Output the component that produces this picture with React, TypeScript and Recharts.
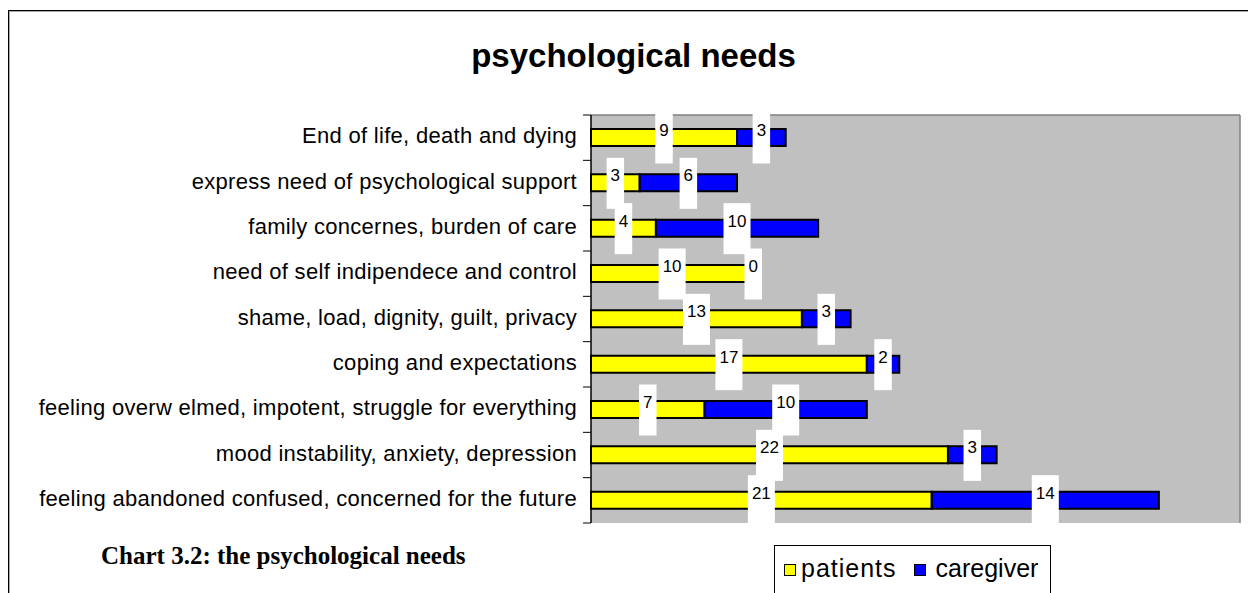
import { BarChart, Bar, XAxis, YAxis, CartesianGrid, LabelList, Legend, ReferenceLine } from 'recharts';

// besoins psychologiques : patients vs caregiver
const categories = [
  'End of life, death and dying',
  'express need of psychological support',
  'family concernes, burden of care',
  'need of self indipendece and control',
  'shame, load, dignity, guilt, privacy',
  'coping and expectations',
  'feeling overw elmed, impotent, struggle for everything',
  'mood instability, anxiety, depression',
  'feeling abandoned confused, concerned for the future',
];
const patients = [9, 3, 4, 10, 13, 17, 7, 22, 21];
const caregiver = [3, 6, 10, 0, 3, 2, 10, 3, 14];
const seriesNames = ['patients', 'caregiver'];
const X_MAX = 40;

const data = categories.map((name, i) => ({
  name,
  patients: patients[i],
  caregiver: caregiver[i],
}));

const CHART_W = 1239;
const CHART_H = 582;
const MARGIN = { top: 104, right: 8, bottom: 70, left: 0 };
const BAND = (CHART_H - MARGIN.top - MARGIN.bottom) / categories.length;

const ARIAL = '"Liberation Sans", Arial, sans-serif';
const TIMES = '"Liberation Serif", "Times New Roman", serif';

function CategoryTick(props: any) {
  const { x, y, payload, index, visibleTicksCount } = props;
  const last = index === visibleTicksCount - 1;
  return (
    <g>
      <line x1={x + 6} x2={x + 14} y1={y - BAND / 2} y2={y - BAND / 2} stroke="#000" />
      {last && <line x1={x + 6} x2={x + 14} y1={y + BAND / 2} y2={y + BAND / 2} stroke="#000" />}
      <text
        x={x}
        y={y + 5.5}
        textAnchor="end"
        fontSize={22}
        letterSpacing={0.3}
        fontFamily={ARIAL}
        fill="#000"
      >
        {payload.value}
      </text>
    </g>
  );
}

function drawBox(cx: number, cy: number, value: any) {
  const w = String(value).length * 9.5 + 8;
  return (
    <g>
      <rect x={cx - w / 2} y={cy - 25} width={w} height={51} fill="#fff" />
      <text x={cx} y={cy - 1.5} textAnchor="middle" fontSize={17} fontFamily={ARIAL} fill="#000">
        {value}
      </text>
    </g>
  );
}

// étiquette blanche façon Excel, centrée sur le segment
function BoxLabel(props: any) {
  const { x, y, width, height, value } = props;
  return drawBox(x + width / 2, y + height / 2, value);
}

// segment caregiver de largeur nulle : recharts ne dessine pas son étiquette,
// on la place au bout du segment patients
function ZeroLabel(props: any) {
  const { x, y, width, height, value } = props;
  if (value !== 0) return null;
  return drawBox(x + width, y + height / 2, value);
}

function LegendBox() {
  const colors = ['#ffff00', '#0000ff'];
  return (
    <div
      style={{
        border: '1px solid #000',
        background: '#fff',
        width: 277,
        height: 60,
        display: 'flex',
        alignItems: 'flex-start',
        paddingTop: 7,
        paddingLeft: 9,
        boxSizing: 'border-box',
        fontFamily: ARIAL,
        fontSize: 25,
        color: '#000',
      }}
    >
      {seriesNames.map((n, i) => (
        <div
          key={n}
          style={{ display: 'flex', alignItems: 'center', marginRight: i === 0 ? 17 : 0, lineHeight: '30px' }}
        >
          <span
            style={{
              display: 'inline-block',
              width: 10,
              height: 10,
              border: '1px solid #000',
              background: colors[i],
              marginRight: i === 0 ? 5 : 10,
              marginTop: 3,
            }}
          />
          <span style={{ letterSpacing: i === 0 ? 1 : 0 }}>{n}</span>
        </div>
      ))}
    </div>
  );
}

export default function App() {
  return (
    <>
      <style>{'body{margin:0;overflow:hidden;}'}</style>
      <div
        style={{
          position: 'absolute',
          left: 8,
          top: 10,
          width: 1260,
          height: 600,
          borderLeft: '1px solid #000',
          borderTop: '1px solid #000',
          boxShadow: 'inset 1px 1px 0 #aaa',
          background: '#fff',
          overflow: 'hidden',
        }}
      >
        <div
          style={{
            position: 'absolute',
            left: 0,
            top: 28,
            width: 1249,
            textAlign: 'center',
            fontFamily: ARIAL,
            fontWeight: 'bold',
            fontSize: 33,
            lineHeight: '33px',
          }}
        >
          psychological needs
        </div>
        <div
          style={{
            position: 'absolute',
            left: 92,
            top: 532,
            fontFamily: TIMES,
            fontWeight: 'bold',
            fontSize: 25,
            lineHeight: '26px',
          }}
        >
          Chart 3.2: the psychological needs
        </div>
        <BarChart
          width={CHART_W}
          height={CHART_H}
          data={data}
          layout="vertical"
          margin={MARGIN}
          barCategoryGap={0}
        >
          <CartesianGrid fill="#c0c0c0" horizontal={false} vertical={false} />
          <XAxis
            type="number"
            domain={[0, X_MAX]}
            tick={false}
            tickLine={false}
            height={0}
            axisLine={{ stroke: '#000', strokeWidth: 1.5 }}
          />
          <YAxis
            type="category"
            dataKey="name"
            width={582}
            tickSize={0}
            tickMargin={14}
            tickLine={false}
            axisLine={{ stroke: '#000', strokeWidth: 1.5 }}
            tick={<CategoryTick />}
            interval={0}
          />
          {/* bords haut et droit de la zone de tracé */}
          <ReferenceLine y={categories[0]} position="start" stroke="#808080" strokeWidth={1.5} />
          <ReferenceLine x={X_MAX} stroke="#808080" strokeWidth={1.5} />
          <Legend
            layout="horizontal"
            verticalAlign="middle"
            content={<LegendBox />}
            wrapperStyle={{ left: 765, top: 534, width: 277, height: 60 }}
          />
          <Bar dataKey="patients" stackId="a" fill="#ffff00" stroke="#000" strokeWidth={2} barSize={17} isAnimationActive={false}>
            <LabelList dataKey="patients" content={<BoxLabel />} />
            <LabelList dataKey="caregiver" content={<ZeroLabel />} />
          </Bar>
          <Bar dataKey="caregiver" stackId="a" fill="#0000ff" stroke="#000" strokeWidth={2} barSize={17} isAnimationActive={false}>
            <LabelList dataKey="caregiver" content={<BoxLabel />} />
          </Bar>
        </BarChart>
      </div>
    </>
  );
}
